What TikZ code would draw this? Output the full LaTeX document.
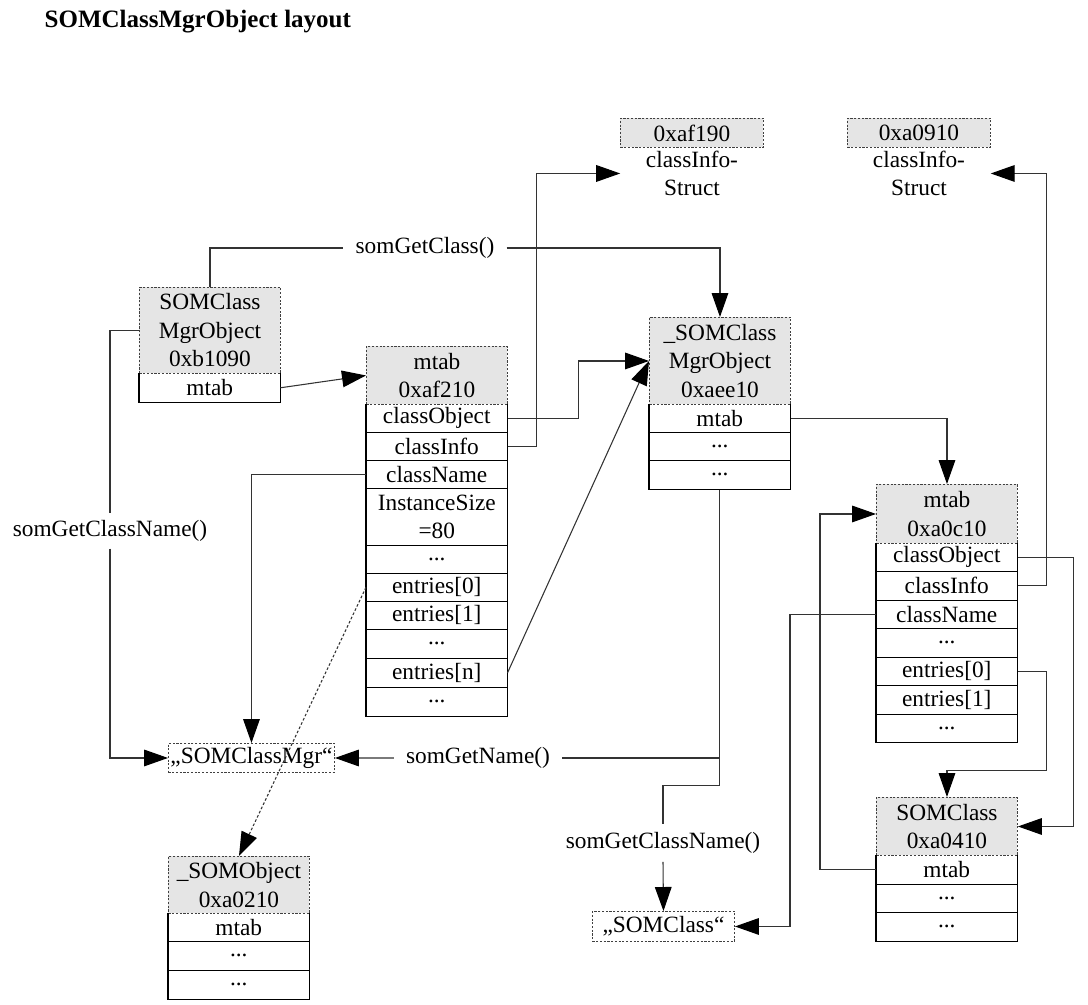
\documentclass[tikz,border=0pt]{standalone}
\usepackage{fontspec}
\setmainfont{Liberation Serif}
\usetikzlibrary{arrows.meta}

% header part of a record (grey, dashed outline)
\newcommand\mkhdr[5]{% name, x, ytop, ybot, text
  \pgfmathsetmacro\hh{(#4-#3)*0.75}
  \node[hdrbox, minimum height=\hh pt] (#1) at (#2,#3) {#5};}
% one field of a record (solid sides and bottom)
\newcommand\mkcell[5]{% name, x, ytop, ybot, text
  \pgfmathsetmacro\hh{(#4-#3)*0.75}
  \node[cellbox, minimum height=\hh pt] (#1) at (#2,#3) {#5};
  \draw[cellline] (#1.north west) -- (#1.south west) -- (#1.south east) -- (#1.north east);}

\begin{document}
\begin{tikzpicture}[x=0.75pt,y=-0.75pt,
  every node/.style={font=\fontsize{17.5pt}{21.4pt}\selectfont},
  hdrbox/.style={anchor=north west, minimum width=105.75pt, inner sep=0pt,
    fill=black!10, draw=black!75, dash pattern=on 1.6pt off 1.2pt, line width=0.7pt, align=center},
  cellbox/.style={anchor=north west, minimum width=105.75pt, inner sep=0pt, align=center},
  cellline/.style={draw=black, line width=0.9pt},
  conn/.style={draw=black!80, line width=0.8pt},
  arr/.style={conn, -{Triangle[length=18pt,width=12.5pt,color=black]}},
  call/.style={fill=white, inner xsep=9pt, inner ysep=2pt},
  strbox/.style={draw=black!75, dash pattern=on 1.6pt off 1.2pt, line width=0.7pt,
    fill=white, inner sep=0pt, anchor=north west}
]
\useasboundingbox (0,0) rectangle (1088,1004);

\node[anchor=base west, font=\bfseries\fontsize{18.75pt}{22pt}\selectfont] (title) at (40,27) {SOMClassMgrObject layout};

% SOMClassMgrObject
\mkhdr{A}{139}{287}{373}{SOMClass\\MgrObject\\0xb1090}
\mkcell{Am}{139}{373}{402}{mtab}

% method table 0xaf210
\mkhdr{B}{366}{346}{404}{mtab\\0xaf210}
\mkcell{Bco}{366}{404}{432}{classObject}
\mkcell{Bci}{366}{432}{460}{classInfo}
\mkcell{Bcn}{366}{460}{488}{className}
\mkcell{Bis}{366}{488}{545}{InstanceSize\\=80}
\mkcell{Bd1}{366}{545}{573}{...}
\mkcell{Be0}{366}{573}{601}{entries[0]}
\mkcell{Be1}{366}{601}{629}{entries[1]}
\mkcell{Bd2}{366}{629}{658}{...}
\mkcell{Ben}{366}{658}{687}{entries[n]}
\mkcell{Bd3}{366}{687}{716}{...}

% _SOMClassMgrObject
\mkhdr{C}{649}{317}{404}{\_SOMClass\\MgrObject\\0xaee10}
\mkcell{Cm}{649}{404}{432}{mtab}
\mkcell{Cd1}{649}{432}{460}{...}
\mkcell{Cd2}{649}{460}{489}{...}

% classInfo structures
\node[hdrbox, minimum width=107.25pt, minimum height=21.75pt] (D) at (620,118) {0xaf190};
\node[anchor=north, minimum width=107.25pt, inner sep=0pt, align=center] (Dl) at ([yshift=-2pt]D.south) {classInfo-\\Struct};
\node[hdrbox, minimum width=107.25pt, minimum height=21.75pt] (E) at (847,118) {0xa0910};
\node[anchor=north, minimum width=107.25pt, inner sep=0pt, align=center] (El) at ([yshift=-2pt]E.south) {classInfo-\\Struct};

% method table 0xa0c10
\mkhdr{F}{876}{484}{543}{mtab\\0xa0c10}
\mkcell{Fco}{876}{543}{571}{classObject}
\mkcell{Fci}{876}{571}{600}{classInfo}
\mkcell{Fcn}{876}{600}{628}{className}
\mkcell{Fd1}{876}{628}{657}{...}
\mkcell{Fe0}{876}{657}{685}{entries[0]}
\mkcell{Fe1}{876}{685}{714}{entries[1]}
\mkcell{Fd2}{876}{714}{742}{...}

% SOMClass
\mkhdr{G}{876}{797}{855}{SOMClass\\0xa0410}
\mkcell{Gm}{876}{855}{884}{mtab}
\mkcell{Gd1}{876}{884}{912}{...}
\mkcell{Gd2}{876}{912}{941}{...}

% _SOMObject
\mkhdr{H}{168}{856}{913}{\_SOMObject\\0xa0210}
\mkcell{Hm}{168}{913}{941}{mtab}
\mkcell{Hd1}{168}{941}{970}{...}
\mkcell{Hd2}{168}{970}{999}{...}

% name strings
\node[strbox, minimum width=124.5pt, minimum height=21.75pt] (I) at (168,743) {„SOMClassMgr“};
\node[strbox, minimum width=106.5pt, minimum height=22.5pt] (J) at (592,911) {„SOMClass“};

% method call labels
\node[call] (lGC) at (425,248) {somGetClass()};
\node[call] (lGN) at (478,758) {somGetName()};
\node[call, inner xsep=2pt, inner ysep=5pt] (lL) at (110,531) {somGetClassName()};
\node[call, inner ysep=6pt] (lR) at (663,843) {somGetClassName()};

% connectors
\draw[conn] (A.north) |- (lGC.west);
\draw[arr] (lGC.east) -| (C.north);
\draw[arr] (Am.east) -- (B.west);
\draw[arr] (Bco.east) -- ++(71,0) |- (C.west);
\draw[arr] (Bci.east) -- ++(29,0) |- (Dl.west);
\draw[arr] (Ben.east) -- (C.west);
\draw[arr] (Bcn.west) -| (I.north);
\draw[conn] (A.west) -| (lL.north);
\draw[arr] (lL.south) |- (I.west);
\draw[arr, dash pattern=on 2pt off 1.5pt] (Be0.west) -- (H.north);
\draw[arr] (Cm.east) -| (F.north);
\draw[conn] (Cd2.south) -- ++(0,296) -| (lR.north);
\draw[conn] (lGN.east) -| (Cd2.south);
\draw[arr] (lGN.west) -- (I.east);
\draw[arr] (lR.south) -- (J.north);
\draw[arr] (Fco.east) -- ++(56,0) |- (G.east);
\draw[arr] (Fci.east) -- ++(29,0) |- (El.east);
\draw[arr] (Fe0.east) -- ++(29,0) -- ++(0,99) -| (G.north);
\draw[arr] (Gm.west) -- ++(-56,0) |- (F.west);
\draw[arr] (Fcn.west) -- ++(-86,0) |- (J.east);
\end{tikzpicture}
\end{document}
